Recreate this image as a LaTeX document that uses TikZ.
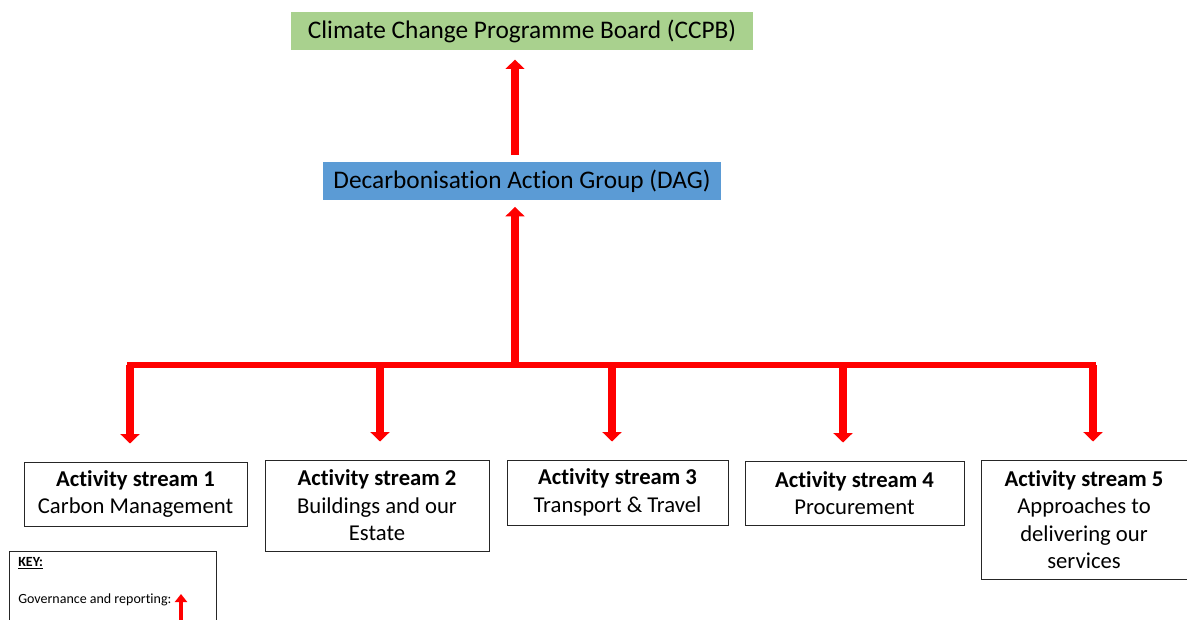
\documentclass[tikz,border=0pt]{standalone}
\usepackage{fontspec}
\setmainfont[Ligatures=NoCommon]{Carlito}
\usetikzlibrary{arrows.meta}
\definecolor{boardgreen}{HTML}{A9D18E}
\definecolor{groupblue}{HTML}{5B9BD5}
\definecolor{govred}{HTML}{FF0000}
\tikzset{
  govarrow/.style={draw=govred, line width=6pt, -{Triangle[width=14pt, length=7pt]}},
  govbar/.style={draw=govred, line width=4.5pt, line cap=rect},
  headbox/.style={minimum height=28.5pt, inner sep=0pt, font=\fontsize{19}{23}\selectfont},
  streambox/.style={draw=black!85, line width=0.75pt, align=center, inner sep=0pt,
                    font=\fontsize{17}{20.6}\selectfont},
}
\begin{document}
\begin{tikzpicture}[x=0.75pt, y=-0.75pt]
  \useasboundingbox (0,0) rectangle (1187,619);
  % top of the chart
  \node (ccpb) [headbox, fill=boardgreen, minimum width=346.5pt] at (522,31) {Climate Change Programme Board (CCPB)};
  \node (dag) [headbox, fill=groupblue, minimum width=298.5pt] at (522,181) {Decarbonisation Action Group (DAG)};
  % activity streams
  \node (s1) [streambox, minimum width=167.25pt, minimum height=48pt] at (135.5,494) {\textbf{Activity stream 1}\\Carbon Management};
  \node (s2) [streambox, minimum width=168pt, minimum height=68.25pt] at (377,505.5) {\textbf{Activity stream 2}\\Buildings and our\\Estate};
  \node (s3) [streambox, minimum width=165.75pt, minimum height=48.75pt] at (617.5,492.5) {\textbf{Activity stream 3}\\Transport \& Travel};
  \node (s4) [streambox, minimum width=164.25pt, minimum height=48pt] at (854.5,493) {\textbf{Activity stream 4}\\Procurement};
  \node (s5) [streambox, minimum width=154.5pt, minimum height=89.25pt] at (1084,519.5) {\textbf{Activity stream 5}\\Approaches to\\delivering our\\services};
  % reporting lines
  \coordinate (hub) at (515,365);
  \coordinate (b1) at (130,365);
  \coordinate (b2) at (380,365);
  \coordinate (b3) at (612,365);
  \coordinate (b4) at (843,365);
  \coordinate (b5) at (1093,365);
  \draw[govbar] (b1) -- (b5);
  \draw[govarrow, shorten >=5pt] (hub) -- (hub |- dag.south);
  \draw[govarrow, shorten <=5pt, shorten >=7pt] (hub |- dag.north) -- (hub |- ccpb.south);
  \foreach \i in {1,...,5}
    \draw[govarrow, shorten >=13.5pt] (b\i) -- (b\i |- s\i.north);
  % key
  \node (key) [draw=black!85, line width=0.75pt, anchor=north west, minimum width=155.25pt, minimum height=60pt] at (9,551) {};
  \node (keytitle) [anchor=west, inner sep=0pt, font=\fontsize{10.5}{12}\selectfont\bfseries] at (18,563) {\underline{KEY:}};
  \node (keygov) [anchor=west, inner sep=0pt, font=\fontsize{10.5}{12}\selectfont] at (18,600) {Governance and reporting:};
  \coordinate (keyfoot) at (181,625);
  \draw[draw=govred, line width=3pt, -{Triangle[width=9pt, length=6pt]}] (keyfoot) -- ++(0,-31);
\end{tikzpicture}
\end{document}
